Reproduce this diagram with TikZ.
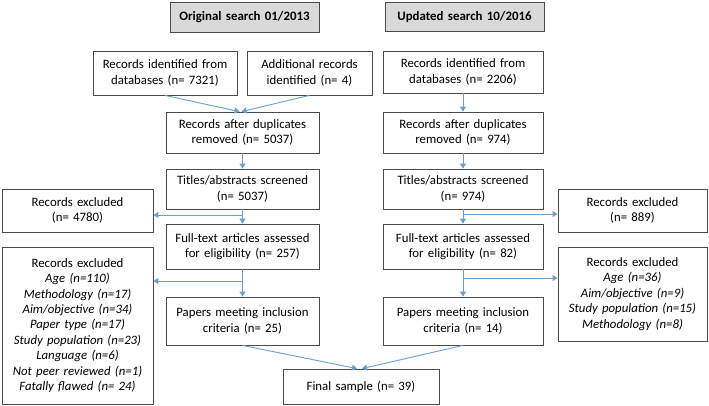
\documentclass[tikz,border=0pt]{standalone}
\usepackage{fontspec}
\setmainfont{Carlito}
\usetikzlibrary{arrows.meta}
\definecolor{arrowblue}{HTML}{6A9FD4}
\definecolor{boxline}{HTML}{4A4A4A}
\definecolor{headfill}{HTML}{D9D9D9}
\newcommand{\boxfont}{\fontsize{12.8}{15.4}\selectfont}
\begin{document}
\begin{tikzpicture}[
  box/.style={draw=boxline, line width=0.8pt, fill=white, align=center, inner sep=0pt,
    font=\boxfont, text width=#1, minimum width=#1},
  box/.default=150pt,
  headbox/.style={box=#1, fill=headfill, font=\fontsize{12.9}{15}\selectfont\bfseries},
  flow/.style={draw=arrowblue, line width=0.9pt, -{Triangle[width=6pt,length=5pt]}}
]
\useasboundingbox (0,0) rectangle (709pt,-406pt);
% headers
\node[headbox=149pt, minimum height=30pt] (hL) at (244.5pt,-17pt) {Original search 01/2013};
\node[headbox=159pt, minimum height=29pt] (hR) at (464.5pt,-16.5pt) {Updated search 10/2016};
% row 1
\node[box=144pt, minimum height=44pt] (idL) at (165pt,-73pt) {Records identified from\\databases (n= 7321)};
\node[box=125pt, minimum height=44pt] (add) at (309.5pt,-73pt) {Additional records\\identified (n= 4)};
\node[box=160pt, minimum height=42pt] (idR) at (463pt,-72pt) {Records identified from\\databases (n= 2206)};
% row 2
\node[box=153pt, minimum height=41pt] (dupL) at (242.5pt,-132.5pt) {Records after duplicates\\removed (n= 5037)};
\node[box=160pt, minimum height=41pt] (dupR) at (463pt,-132.5pt) {Records after duplicates\\removed (n= 974)};
% row 3
\node[box=153pt, minimum height=40pt] (titL) at (242.5pt,-189pt) {Titles/abstracts screened\\(n= 5037)};
\node[box=160pt, minimum height=40pt] (titR) at (463pt,-189pt) {Titles/abstracts screened\\(n= 974)};
\node[box=151pt, minimum height=43pt] (exL) at (77.5pt,-210.5pt) {Records excluded\\(n= 4780)};
\node[box=149pt, minimum height=43pt] (exR) at (632.5pt,-210.5pt) {Records excluded\\(n= 889)};
% row 4
\node[box=153pt, minimum height=45pt] (fullL) at (242.5pt,-246.5pt) {Full-text articles assessed\\for eligibility (n= 257)};
\node[box=160pt, minimum height=45pt] (fullR) at (463pt,-246.5pt) {Full-text articles assessed\\for eligibility (n= 82)};
\node[box=151pt, minimum height=157pt] (ex2L) at (77.5pt,-325.5pt) {Records excluded\\\itshape Age (n=110)\\Methodology (n=17)\\Aim/objective (n=34)\\Paper type (n=17)\\Study population (n=23)\\Language (n=6)\\Not peer reviewed (n=1)\\Fatally flawed (n= 24)};
\node[box=149pt, minimum height=94pt] (ex2R) at (632.5pt,-294pt) {Records excluded\\\itshape Age (n=36)\\Aim/objective (n=9)\\Study population (n=15)\\Methodology (n=8)};
% row 5
\node[box=153pt, minimum height=48pt] (papL) at (242.5pt,-321pt) {Papers meeting inclusion\\criteria (n= 25)};
\node[box=160pt, minimum height=48pt] (papR) at (463pt,-321pt) {Papers meeting inclusion\\criteria (n= 14)};
\node[box=156pt, minimum height=35pt] (final) at (361pt,-386.5pt) {Final sample (n= 39)};
% branch coordinates
\coordinate (bL1) at (242.5pt,-215pt);
\coordinate (bR1) at (463pt,-214pt);
\coordinate (bL2) at (242.5pt,-281pt);
\coordinate (bR2) at (463pt,-278pt);
% connectors
\draw[flow] (idL.south) -- ([xshift=-3pt]dupL.north);
\draw[flow] (add.south) -- ([xshift=-1pt]dupL.north);
\draw[flow] (idR.south) -- (dupR.north);
\draw[flow] (dupL.south) -- (titL.north);
\draw[flow] (dupR.south) -- (titR.north);
\draw[flow] (titL.south) -- (fullL.north);
\draw[flow] (titR.south) -- (fullR.north);
\draw[flow] (bL1) -- (exL.east |- bL1);
\draw[flow] (bR1) -- (exR.west |- bR1);
\draw[flow] (fullL.south) -- (papL.north);
\draw[flow] (fullR.south) -- (papR.north);
\draw[flow] (bL2) -- (ex2L.east |- bL2);
\draw[flow] (bR2) -- (ex2R.west |- bR2);
\draw[flow] (papL.south) -- ([xshift=-4pt]final.north);
\draw[flow] (papR.south) -- ([xshift=1pt]final.north);
\end{tikzpicture}
\end{document}
